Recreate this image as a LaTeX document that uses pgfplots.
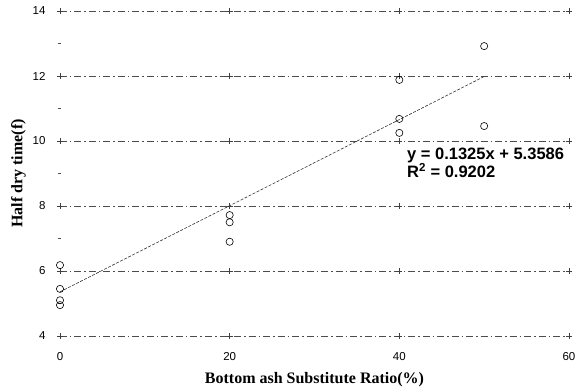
\documentclass[border=0pt]{standalone}
\usepackage{fontspec}
\setmainfont{Liberation Serif}
\newfontfamily\arial{Liberation Sans}
\usepackage{pgfplots}
\pgfplotsset{compat=1.18}
\begin{document}
\begin{tikzpicture}
\begin{axis}[
  scale only axis,
  width=509pt, height=325pt,
  xmin=0, xmax=60, ymin=4, ymax=14,
  xtick={0,20,40,60}, ytick={4,6,8,10,12,14},
  minor ytick={5,7,9,11,13},
  axis line style={draw=none},
  major tick length=0pt,
  minor tick length=3pt,
  tick align=center,
  ytick pos=left, xtick pos=bottom,
  minor tick style={black!70, line width=0.6pt},
  ymajorgrids,
  major grid style={black!70, line width=0.7pt, dash pattern=on 7pt off 3pt on 1.5pt off 3pt},
  /pgf/number format/assume math mode=true,
  ticklabel style={font=\arial\fontsize{11.5}{12}\selectfont},
  yticklabel shift=11pt,
  xticklabel shift=13pt,
  xlabel={\textbf{Bottom ash Substitute Ratio(\%)}},
  ylabel={\textbf{Half dry time(f)}},
  xlabel style={yshift=-5pt},
  label style={font=\fontsize{16}{18}\selectfont},
  clip=false,
]
\coordinate (sw) at (rel axis cs:0,0);
% grid crossing marks
\addplot[only marks, mark=+, mark size=3pt, black!75, mark options={line width=0.5pt}] coordinates {
 (0,4) (20,4) (40,4) (60,4)
 (0,6) (20,6) (40,6) (60,6)
 (0,8) (20,8) (40,8) (60,8)
 (0,10) (20,10) (40,10) (60,10)
 (0,12) (20,12) (40,12) (60,12)
 (0,14) (20,14) (40,14) (60,14)
};
% trend line
\addplot[black!80, line width=0.6pt, dash pattern=on 3pt off 1.5pt] coordinates {(0,5.3586) (50,11.9836)};
% data
\addplot[only marks, mark=o, mark size=3.6pt, black, mark options={line width=0.6pt}] coordinates {
 (0,6.18) (0,5.45) (0,5.1) (0,4.95)
 (20,7.72) (20,7.5) (20,6.9)
 (40,11.88) (40,10.68) (40,10.25)
 (50,12.92) (50,10.46)
};
\node[anchor=base west, font=\arial\bfseries\fontsize{16.5}{18}\selectfont, inner sep=0pt] at (axis cs:40.9,9.42) {y = 0.1325x + 5.3586};
\node[anchor=base west, font=\arial\bfseries\fontsize{16.5}{18}\selectfont, inner sep=0pt] at (axis cs:40.9,8.87) {R\textsuperscript{2} = 0.9202};
\end{axis}
\pgfresetboundingbox
\path (sw) ++(-60pt,-53pt) rectangle ++(587pt,389pt);
\end{tikzpicture}
\end{document}
